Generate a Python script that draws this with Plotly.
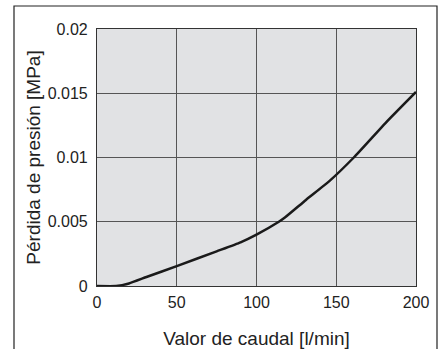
import plotly.graph_objects as go

flow = [0, 12, 20, 31, 50, 75, 90, 100, 114, 118, 131, 146, 161, 181, 200]
pressure_drop = [0, 0, 0.0002, 0.0007, 0.00155, 0.0027, 0.0034, 0.004, 0.005,
                 0.00535, 0.0067, 0.0082, 0.01, 0.0127, 0.0151]

x_ticks = [0, 50, 100, 150, 200]
y_ticks = [0, 0.005, 0.01, 0.015, 0.02]
y_tick_labels = ["0", "0.005", "0.01", "0.015", "0.02"]

x_title = "Valor de caudal [l/min]"
y_title = "Pérdida de presión [MPa]"

fig = go.Figure()
fig.add_trace(go.Scatter(
    x=flow, y=pressure_drop, mode="lines",
    line=dict(color="#1a1a1a", width=2.5, shape="spline", smoothing=0.5),
    hoverinfo="skip", showlegend=False,
))

L, R, T, B = 97, 27, 29, 63
W, H = 443, 349
pw, ph = W - L - R, H - T - B

fig.update_layout(
    width=W, height=H,
    margin=dict(l=L, r=R, t=T, b=B, pad=0, autoexpand=False),
    paper_bgcolor="white",
    plot_bgcolor="#e1e2e4",
    font=dict(family="Liberation Sans, Arial, sans-serif", size=16, color="#222"),
    showlegend=False,
    shapes=[dict(
        type="rect", xref="paper", yref="paper",
        x0=(14 - L) / pw, x1=(437 - L) / pw,
        y0=(H - B - 360) / ph, y1=(H - B - 6) / ph,
        line=dict(color="#222", width=1.2), fillcolor="rgba(0,0,0,0)",
        layer="below",
    )],
)
fig.update_xaxes(
    range=[0, 200], tickvals=x_ticks, showgrid=True, gridcolor="#555", gridwidth=1,
    showline=True, mirror=True, linecolor="#333", linewidth=1.2,
    zeroline=False, ticks="outside", ticklen=2, tickcolor="rgba(0,0,0,0)",
    title=dict(text=x_title, standoff=21), automargin=False,
)
fig.update_yaxes(
    range=[0, 0.02], tickvals=y_ticks, ticktext=y_tick_labels,
    showgrid=True, gridcolor="#555", gridwidth=1,
    showline=True, mirror=True, linecolor="#333", linewidth=1.2,
    zeroline=False, ticks="outside", ticklen=5, tickcolor="rgba(0,0,0,0)",
    title=dict(text=y_title, standoff=2), automargin=False,
)

fig.write_html("out.html")
